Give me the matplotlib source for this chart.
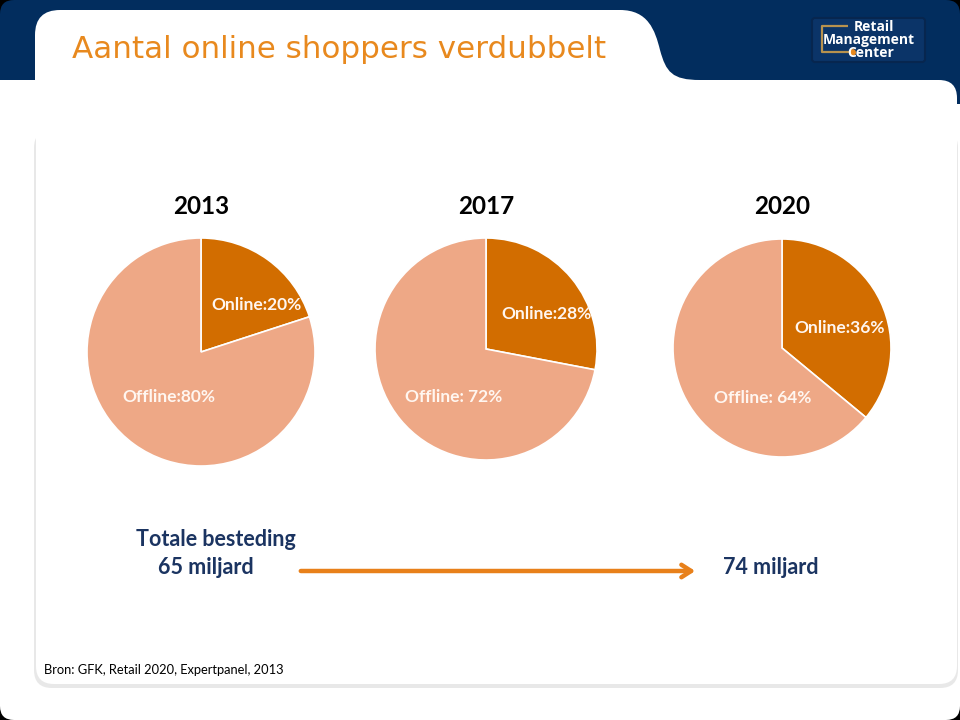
import matplotlib
matplotlib.use("Agg")
import matplotlib.pyplot as plt
from matplotlib.patches import FancyBboxPatch, Rectangle, PathPatch
from matplotlib.path import Path

# ---------------- data ----------------
years = ["2013", "2017", "2020"]
online_share = [20, 28, 36]
offline_share = [80, 72, 64]
online_labels = ["Online:20%", "Online:28%", "Online:36%"]
offline_labels = ["Offline:80%", "Offline: 72%", "Offline: 64%"]
spend_start = "65 miljard"
spend_end = "74 miljard"
spend_title = "Totale besteding"
title = "Aantal online shoppers verdubbelt"
source = "Bron: GFK, Retail 2020, Expertpanel, 2013"

# ---------------- style ----------------
NAVY = "#022d5e"
ONLINE = "#d26d00"
OFFLINE = "#eea886"
TITLE_OR = "#e8891e"
TEXT_NAVY = "#1b3461"
ARROW_OR = "#e8801a"

W, H = 960, 720
fig = plt.figure(figsize=(W / 100, H / 100), dpi=100)
fig.patch.set_facecolor("white")

# background overlay in pixel coordinates (origin top-left)
bg = fig.add_axes([0, 0, 1, 1], zorder=0)
bg.set_xlim(0, W)
bg.set_ylim(H, 0)
bg.axis("off")

# navy band
bg.add_patch(Rectangle((0, 0), W, 80, color=NAVY, lw=0))
bg.add_patch(Rectangle((900, 79), 60, 25, color=NAVY, lw=0))

# panel shadow + panel
bg.add_patch(FancyBboxPatch((34, 130), 924, 558,
                            boxstyle="round,pad=0,rounding_size=18",
                            fc="#e8e8e8", ec="none"))
bg.add_patch(FancyBboxPatch((36, 80), 921, 604,
                            boxstyle="round,pad=0,rounding_size=18",
                            fc="white", ec="none"))
bg.add_patch(Rectangle((36, 80), 40, 40, fc="white", ec="none"))

# title tab with curved right side
verts = [
    (35, 82), (35, 35),
    (35, 10), (60, 10),
    (620, 10),
    (648, 10), (655, 30), (660, 50),
    (666, 72), (672, 80), (700, 80),
    (35, 82),
]
codes = [Path.MOVETO, Path.LINETO,
         Path.CURVE3, Path.CURVE3,
         Path.LINETO,
         Path.CURVE4, Path.CURVE4, Path.CURVE4,
         Path.CURVE4, Path.CURVE4, Path.CURVE4,
         Path.CLOSEPOLY]
bg.add_patch(PathPatch(Path(verts, codes), fc="white", ec="none"))

# slide corners
r = 14
for (cx, cy, sx, sy) in [(0, 0, 1, 1), (W, 0, -1, 1), (0, H, 1, -1), (W, H, -1, -1)]:
    v = [(cx, cy), (cx + sx * r, cy),
         (cx, cy), (cx, cy + sy * r), (cx, cy)]
    c = [Path.MOVETO, Path.LINETO, Path.CURVE3, Path.CURVE3, Path.CLOSEPOLY]
    bg.add_patch(PathPatch(Path(v, c), fc="black", ec="none"))

# logo
bg.add_patch(FancyBboxPatch((812, 18), 113, 44,
                            boxstyle="round,pad=0,rounding_size=3",
                            fc="#0b3468", ec="#07264f", lw=1.5))
bg.plot([848, 822, 822, 850], [26, 26, 52, 52], color="#b8924e", lw=1.6,
        solid_capstyle="butt")
bg.plot([852], [52], "o", color="#e8891e", ms=4)
bg.text(874, 27, "Retail", color="white", fontsize=10, fontweight="bold",
        family="Open Sans", ha="center", va="center")
bg.text(869, 40, "Management", color="white", fontsize=10, fontweight="bold",
        family="Open Sans", ha="center", va="center")
bg.text(871, 53, "Center", color="white", fontsize=10, fontweight="bold",
        family="Open Sans", ha="center", va="center")

# title
bg.text(72, 50, title, color=TITLE_OR, fontsize=22.3, family="DejaVu Sans",
        ha="left", va="center")

# ---------------- pies ----------------
centers = [(201, 352), (486, 349), (782, 348)]
radii = [114, 111, 109]
online_pos = [(55, 47), (60, 35), (58, 20)]
offline_pos = [(-32, -45), (-32, -48), (-19, -50)]

for i in range(3):
    cx, cy = centers[i]
    rad = radii[i]
    ax = fig.add_axes([(cx - rad) / W, (H - cy - rad) / H, 2 * rad / W, 2 * rad / H],
                      zorder=2)
    ax.pie([online_share[i], offline_share[i]], colors=[ONLINE, OFFLINE],
           startangle=90, counterclock=False, radius=1,
           wedgeprops=dict(edgecolor="white", linewidth=1.2))
    ax.set_xlim(-1, 1)
    ax.set_ylim(-1, 1)
    ax.set_aspect("auto")
    ax.axis("off")
    ox, oy = online_pos[i]
    fx, fy = offline_pos[i]
    ax.text(ox / rad, oy / rad, online_labels[i], color="#fff6f0", fontsize=12.5,
            fontweight="bold", family="Lato", ha="center", va="center")
    ax.text(fx / rad, fy / rad, offline_labels[i], color="#fff6f0", fontsize=12.5,
            fontweight="bold", family="Lato", ha="center", va="center")
    bg.text(cx, 206, years[i], color="black", fontsize=17.5, fontweight="bold",
            family="Lato", ha="center", va="center")

# ---------------- spending ----------------
bg.text(216, 540, spend_title, color=TEXT_NAVY, fontsize=15.5, fontweight="bold",
        family="Lato", ha="center", va="center")
bg.text(206, 568, spend_start, color=TEXT_NAVY, fontsize=15.5, fontweight="bold",
        family="Lato", ha="center", va="center")
bg.text(771, 568, spend_end, color=TEXT_NAVY, fontsize=15.5, fontweight="bold",
        family="Lato", ha="center", va="center")
bg.annotate("", xy=(698, 571), xytext=(298, 571),
            arrowprops=dict(arrowstyle="->,head_length=0.7,head_width=0.45",
                            color=ARROW_OR, lw=3.2))

# source
bg.text(44, 670, source, color="black", fontsize=9.3, family="Lato",
        ha="left", va="center")

fig.savefig("out.png", dpi=100, facecolor=fig.get_facecolor())
